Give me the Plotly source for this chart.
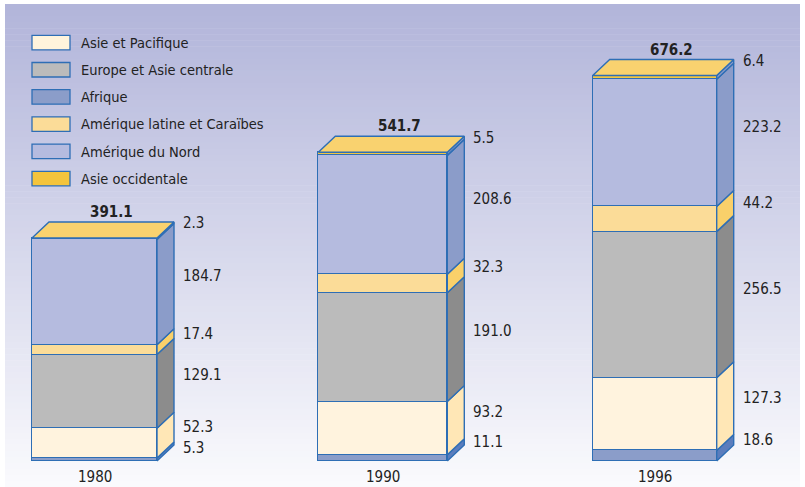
import plotly.graph_objects as go

# ---------------- data ----------------
years = ["1980", "1990", "1996"]
afrique = [5.3, 11.1, 18.6]
asie_pacifique = [52.3, 93.2, 127.3]
europe_asie_centrale = [129.1, 191.0, 256.5]
amerique_latine = [17.4, 32.3, 44.2]
amerique_nord = [184.7, 208.6, 223.2]
asie_occidentale = [2.3, 5.5, 6.4]
totals = [391.1, 541.7, 676.2]

# stack order bottom -> top
series = [
    ("Afrique", afrique),
    ("Asie et Pacifique", asie_pacifique),
    ("Europe et Asie centrale", europe_asie_centrale),
    ("Amérique latine et Caraïbes", amerique_latine),
    ("Amérique du Nord", amerique_nord),
    ("Asie occidentale", asie_occidentale),
]
legend_order = ["Asie et Pacifique", "Europe et Asie centrale", "Afrique",
                "Amérique latine et Caraïbes", "Amérique du Nord", "Asie occidentale"]

# ---------------- styles ----------------
front_col = {
    "Afrique": "#8b9dc9",
    "Asie et Pacifique": "#fff3de",
    "Europe et Asie centrale": "#bbbbbb",
    "Amérique latine et Caraïbes": "#fbdc98",
    "Amérique du Nord": "#b5bbdf",
    "Asie occidentale": "#f2c640",
}
side_col = {
    "Afrique": "#5b7dbd",
    "Asie et Pacifique": "#ffe7b6",
    "Europe et Asie centrale": "#8c8c8c",
    "Amérique latine et Caraïbes": "#f9d06a",
    "Amérique du Nord": "#8b9cc9",
    "Asie occidentale": "#8b9cc9",
}
legend_col = {
    "Afrique": "#8b9dc9",
    "Asie et Pacifique": "#fff4dc",
    "Europe et Asie centrale": "#bbbbbb",
    "Amérique latine et Caraïbes": "#fbdc98",
    "Amérique du Nord": "#b5bbdf",
    "Asie occidentale": "#f4c43c",
}
top_col = "#f9d26f"
EDGE = "#2e6eb5"
EW = 1.4
FONT = "DejaVu Sans Condensed, Liberation Sans Narrow, sans-serif"
TXT = "#222222"

W, H = 805, 487
BASE_PX = 461          # pixel row of the bar bottoms
PX = 0.570             # pixels per unit
x_pos = [94.5, 382.8, 654.7]
widths = [125, 129, 124]
DX = 17                # depth, px
DY = 16 / PX           # depth, data units
MIN_GAP = 21 / PX      # minimum vertical gap between value labels


def py2y(py):
    return (BASE_PX - py) / PX


def py2paper(py):
    return 1 - py / H


fig = go.Figure()

# front faces
for name, vals in series:
    fig.add_trace(go.Bar(
        x=x_pos, y=vals, width=widths, name=name,
        marker=dict(color=front_col[name], line=dict(color=EDGE, width=EW)),
        showlegend=False, hoverinfo="skip",
    ))

# side faces and top
cum = [0.0] * len(years)
label_pos = [[] for _ in years]   # per bar: (y, text), bottom -> top
for name, vals in series:
    xs, ys = [], []
    for i, v in enumerate(vals):
        xr = x_pos[i] + widths[i] / 2
        y0, y1 = cum[i], cum[i] + v
        xs += [xr, xr + DX, xr + DX, xr, xr, None]
        ys += [y0, y0 + DY, y1 + DY, y1, y0, None]
        label_pos[i].append([(y0 + y1) / 2 + DY, f"{v:.1f}"])
        cum[i] = y1
    fig.add_trace(go.Scatter(
        x=xs, y=ys, mode="lines", fill="toself", fillcolor=side_col[name],
        line=dict(color=EDGE, width=EW), showlegend=False, hoverinfo="skip"))

xs, ys = [], []
for i in range(len(years)):
    xl = x_pos[i] - widths[i] / 2
    xr = x_pos[i] + widths[i] / 2
    t = cum[i]
    xs += [xl, xl + DX, xr + DX, xr, xl, None]
    ys += [t, t + DY, t + DY, t, t, None]
fig.add_trace(go.Scatter(
    x=xs, y=ys, mode="lines", fill="toself", fillcolor=top_col,
    line=dict(color=EDGE, width=EW), showlegend=False, hoverinfo="skip"))

annotations = []
for i in range(len(years)):
    labs = label_pos[i]
    # resolve collisions from the top down
    for k in range(len(labs) - 2, -1, -1):
        if labs[k + 1][0] - labs[k][0] < MIN_GAP:
            labs[k][0] = labs[k + 1][0] - MIN_GAP
    xr = x_pos[i] + widths[i] / 2
    for y, txt in labs:
        annotations.append(dict(
            x=xr + DX + 7, y=y, text=txt,
            xanchor="left", yanchor="middle", showarrow=False,
            font=dict(family=FONT, size=15, color=TXT)))

for i, tot in enumerate(totals):
    annotations.append(dict(
        x=x_pos[i] + DX, y=cum[i] + DY + 10 / PX, text=f"<b>{tot:.1f}</b>",
        xanchor="center", yanchor="middle", showarrow=False,
        font=dict(family=FONT, size=15, color=TXT)))
    annotations.append(dict(
        x=x_pos[i], xref="x", y=py2paper(477), yref="paper", text=years[i],
        xanchor="center", yanchor="middle", showarrow=False,
        font=dict(family=FONT, size=15, color=TXT)))

# background gradient
shapes = []
N = 80
top_rgb = (178, 181, 218)
bot_rgb = (250, 250, 253)
y_start, y_end = 4, H
for k in range(N):
    f = k / (N - 1)
    c = tuple(round(top_rgb[j] + (bot_rgb[j] - top_rgb[j]) * f) for j in range(3))
    pa = y_start + (y_end - y_start) * k / N
    pb = y_start + (y_end - y_start) * (k + 1) / N + 0.6
    shapes.append(dict(type="rect", xref="paper", yref="paper", layer="below",
                       x0=5 / W, x1=800 / W, y0=py2paper(pb), y1=py2paper(pa),
                       fillcolor="rgb(%d,%d,%d)" % c, line=dict(width=0)))

# legend
row0, row_step = 35.3, 27.2
for r, name in enumerate(legend_order):
    ptop = row0 + r * row_step
    shapes.append(dict(type="rect", xref="x", yref="paper",
                       x0=32, x1=70, y0=py2paper(ptop + 14.5), y1=py2paper(ptop),
                       fillcolor=legend_col[name], line=dict(color=EDGE, width=1.3)))
    annotations.append(dict(
        x=79, xref="x", y=py2paper(ptop + 7.5), yref="paper", text=name,
        xanchor="left", yanchor="middle", showarrow=False,
        font=dict(family=FONT, size=14.5, color=TXT)))

fig.update_layout(
    width=W, height=H, margin=dict(l=0, r=0, t=0, b=0),
    paper_bgcolor="white", plot_bgcolor="rgba(0,0,0,0)",
    barmode="stack", bargap=0,
    xaxis=dict(range=[0, W], visible=False, fixedrange=True),
    yaxis=dict(range=[py2y(H), py2y(0)], visible=False, fixedrange=True),
    shapes=shapes, annotations=annotations, showlegend=False,
)

fig.write_html("out.html", config={"displayModeBar": False},
               post_script="document.body.style.margin='0';document.body.style.overflow='hidden';")
